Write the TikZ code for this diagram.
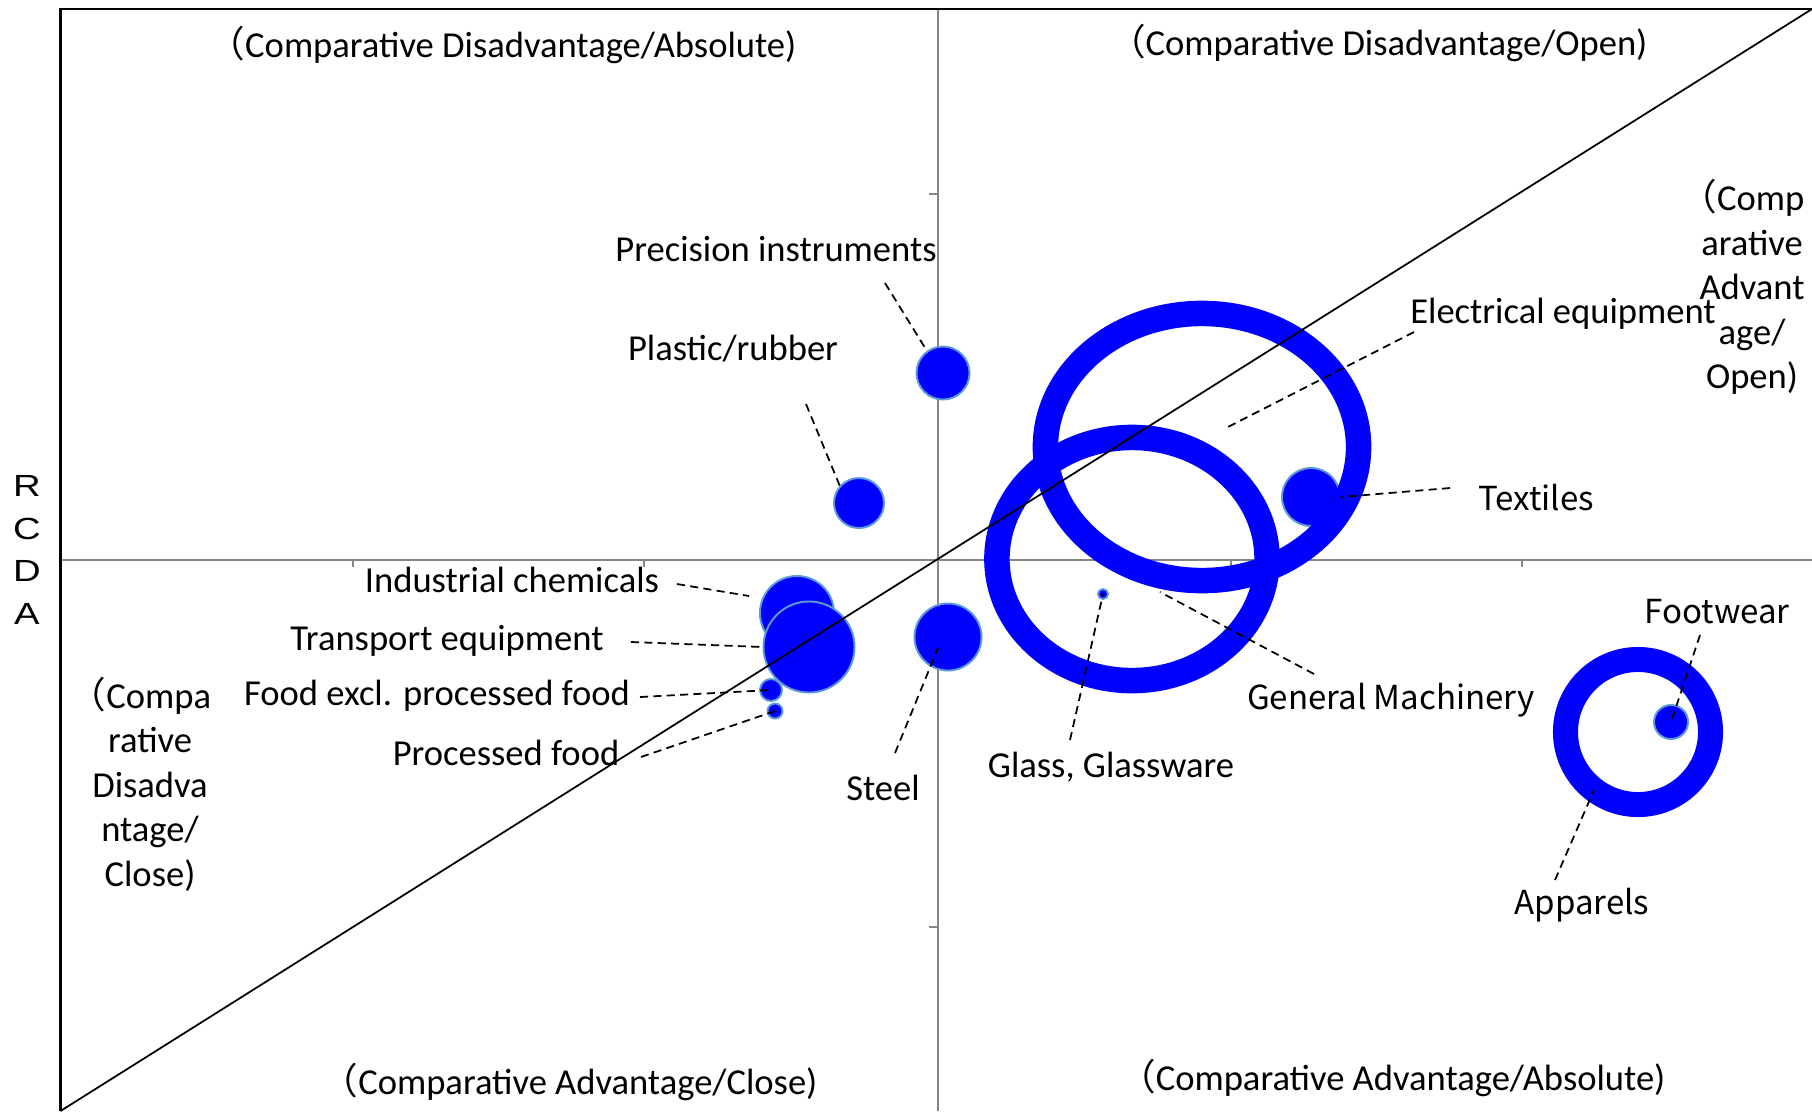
\documentclass[tikz,border=0pt]{standalone}
\usepackage{fontspec}
\setmainfont{Carlito}
\setsansfont{Liberation Sans}
\newfontfamily\gothic{Noto Sans CJK JP}
\newfontfamily\axisfont[FakeStretch=1.25]{Liberation Sans}
\newcommand{\lpar}{{\gothic （}}
\usetikzlibrary{shapes.geometric}
\definecolor{bubblue}{RGB}{0,0,255}
\definecolor{bubedge}{RGB}{91,155,213}
\definecolor{axisgray}{RGB}{134,134,134}

\begin{document}
\begin{tikzpicture}[x=0.01cm, y=-0.01cm,
    axis/.style={axisgray, line width=0.6pt},
    bubble/.style={draw=bubedge, line width=0.55pt, fill=bubblue, circle, inner sep=0pt},
    ring/.style={draw=bubblue, ellipse, inner sep=0pt},
    leader/.style={black, line width=0.5pt, dash pattern=on 2.3pt off 1.5pt},
    lbl/.style={font=\fontsize{10.4}{12.7}\selectfont, inner sep=0pt, anchor=base},
    glbl/.style={font=\gothic\fontsize{9.4}{10}\selectfont, inner sep=0pt, anchor=base},
    quad/.style={font=\fontsize{10.4}{12.66}\selectfont, inner sep=0pt, align=center}]
    \useasboundingbox (0,0) rectangle (1812,1111);

    \draw[axis] (60.5,560) -- (1812,560);
    \draw[axis] (938,9) -- (938,1111);
    \foreach \x in {353,644,1231,1522}
        \draw[axis] (\x,560) -- (\x,567);
    \foreach \y in {194,927}
        \draw[axis] (938,\y) -- (929,\y);
    \draw[black, line width=0.6pt] (60.5,1111) -- (60.5,9) -- (1812,9);

    \node[bubble, minimum size=0.53cm] (prec) at (943,373) {};
    \node[bubble, minimum size=0.50cm] (plast) at (859,503) {};
    \node[bubble, minimum size=0.74cm] (indus) at (797,613) {};
    \node[bubble, minimum size=0.91cm] (trans) at (809,647) {};
    \node[bubble, minimum size=0.22cm] (foodx) at (771,690) {};
    \node[bubble, minimum size=0.15cm] (pfood) at (775,711) {};
    \node[bubble, minimum size=0.67cm] (steel) at (948,637) {};
    \node[bubble, minimum size=0.10cm] (glass) at (1103,594) {};
    \node[bubble, minimum size=0.58cm] (text) at (1311,497) {};
    \node[bubble, minimum size=0.34cm] (foot) at (1671,722) {};

    \node[ring, line width=0.255cm, minimum width=3.13cm, minimum height=2.67cm] (elec) at (1202,447) {};
    \node[ring, line width=0.255cm, minimum width=2.70cm, minimum height=2.43cm] (genm) at (1132,559) {};
    \node[ring, line width=0.25cm, minimum width=1.45cm, minimum height=1.45cm] (appar) at (1638,732) {};

    \coordinate (bl) at (60.5,1111);
    \coordinate (tr) at (1812,9);
    \draw[black, line width=0.5pt] (bl) -- (tr);

    \node[lbl] (prec-l) at (776,261) {Precision instruments};
    \node[lbl] (plast-l) at (733,360) {Plastic/rubber};
    \node[lbl] (indus-l) at (512,592) {Industrial chemicals};
    \node[lbl] (trans-l) at (447,650) {Transport equipment};
    \node[lbl] (foodx-l) at (437,705) {Food excl. processed food};
    \node[lbl] (pfood-l) at (506,765) {Processed food};
    \node[lbl] (steel-l) at (883,800) {Steel};
    \node[lbl] (glass-l) at (1111,777) {Glass, Glassware};
    \node[lbl] (elec-l) at (1563,323) {Electrical equipment};
    \node[glbl] (genm-l) at (1391,709) {General Machinery};
    \node[glbl] (text-l) at (1536,510) {Textiles};
    \node[glbl] (foot-l) at (1717,623) {Footwear};
    \node[glbl] (appar-l) at (1582,914) {Apparels};

    \node[lbl, anchor=base east] (q-tl) at (797,57) {\lpar Comparative Disadvantage/Absolute)};
    \node[lbl, anchor=base east] (q-tr) at (1648,55) {\lpar Comparative Disadvantage/Open)};
    \node[lbl, anchor=base east] (q-bl) at (818,1094) {\lpar Comparative Advantage/Close)};
    \node[lbl, anchor=base east] (q-br) at (1666,1090) {\lpar Comparative Advantage/Absolute)};
    \node[quad] (q-r) at (1752,287) {\hspace*{-5.4pt}\lpar Comp\\arative\\Advant\\age/\\Open)};
    \node[quad] (q-l) at (150,784) {\hspace*{-5.4pt}\lpar Compa\\rative\\Disadva\\ntage/\\Close)};
    \node[font=\axisfont\fontsize{8.7}{12.1}\selectfont, inner sep=0pt, align=center] (rcda) at (27,550) {R\\C\\D\\A};

    \coordinate (prec-a) at (885,283);
    \coordinate (plast-a) at (806,404);
    \coordinate (indus-a) at (677,584);
    \coordinate (indus-b) at (749,596);
    \coordinate (trans-a) at (631,642);
    \coordinate (foodx-a) at (640,697);
    \coordinate (pfood-a) at (641,757);
    \coordinate (steel-a) at (895,753);
    \coordinate (steel-b) at (938,648);
    \coordinate (glass-a) at (1070,740);
    \coordinate (genm-a) at (1314,674);
    \coordinate (genm-b) at (1160,592);
    \coordinate (elec-a) at (1414,332);
    \coordinate (elec-b) at (1224,429);
    \coordinate (text-a) at (1450,488);
    \coordinate (foot-a) at (1700,635);
    \coordinate (appar-a) at (1555,880);
    \coordinate (appar-b) at (1594,790);

    \draw[leader] (prec-a) -- (prec.126);
    \draw[leader] (plast-a) -- (plast.138);
    \draw[leader] (indus-a) -- (indus-b);
    \draw[leader] (trans-a) -- (trans.west);
    \draw[leader] (foodx-a) -- (foodx.center);
    \draw[leader] (pfood-a) -- (pfood.center);
    \draw[leader] (steel-a) -- (steel-b);
    \draw[leader] (glass-a) -- (glass.center);
    \draw[leader] (genm-a) -- (genm-b);
    \draw[leader] (elec-a) -- (elec-b);
    \draw[leader] (text-a) -- (text.east);
    \draw[leader] (foot-a) -- (foot.center);
    \draw[leader] (appar-a) -- (appar-b);
\end{tikzpicture}
\end{document}
